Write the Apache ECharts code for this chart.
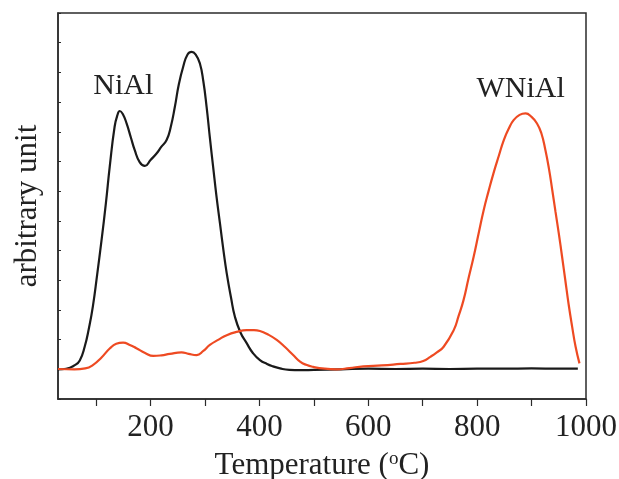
<!DOCTYPE html>
<html>
<head>
<meta charset="utf-8">
<script src="https://cdn.jsdelivr.net/npm/echarts@6/dist/echarts.min.js"></script>
<style>
html,body{margin:0;padding:0;background:#fff;}
#main{width:619px;height:479px;}
</style>
</head>
<body>
<div id="main"></div>
<script>
// Data (temperature in °C, arbitrary units)
const niAlTemp = [30,45,61,70,79,87,94,102,110,118,125,134,139,143.5,149,156,164,171,180,189.5,200,211,220,229.5,237,244.7,252,260,268,275.5,283,290.7,297,303,309,315,321,327.5,334,340,348,355,365,376.6,388,401,414,425,438,455,475,500,550,600,650,700,750,800,850,900,950,985];
const niAlValue = [1.0,1.02,1.14,1.3,1.76,2.4,3.11,4.2,5.35,6.6,7.82,9.17,9.55,9.70,9.6,9.28,8.8,8.38,7.98,7.85,8.05,8.27,8.5,8.72,9.15,9.84,10.6,11.19,11.6,11.69,11.6,11.30,10.7,9.84,8.8,7.82,6.85,5.92,5.0,4.23,3.4,2.77,2.25,1.88,1.55,1.31,1.18,1.1,1.03,0.98,0.97,0.98,1.0,1.02,1.01,1.02,1.01,1.02,1.02,1.03,1.02,1.02];
const wNiAlTemp = [30,60,80,94,110,125,137,149.6,162,174,190,205,220,235.5,257,270,284.6,297,309,325,340,358,376.6,390,401,415,431.8,447,462,474.7,486,499,520,542,565,591,625,659,685,701,714,726,738.5,757,766,775,784,793.6,803,812,821,830,840,849,858,867,878,889,900,910,918,925.5,932,938,944,950,956,962,968,974.6,981,988];
const wNiAlValue = [1.01,1.0,1.03,1.14,1.4,1.7,1.86,1.90,1.82,1.71,1.55,1.45,1.47,1.52,1.57,1.52,1.48,1.62,1.82,2.0,2.15,2.26,2.32,2.32,2.29,2.18,1.99,1.75,1.48,1.26,1.15,1.08,1.02,1.0,1.04,1.1,1.13,1.18,1.22,1.28,1.42,1.57,1.76,2.32,2.8,3.33,4.05,4.79,5.6,6.36,7.0,7.6,8.2,8.72,9.1,9.39,9.57,9.62,9.5,9.28,8.95,8.38,7.75,7.04,6.3,5.58,4.8,4.0,3.2,2.43,1.75,1.2];
const xTickValues = [100,200,300,400,500,600,700,800,900,1000];
const xLabelValues = [200,400,600,800,1000];
const seriesNames = ['NiAl','WNiAl'];
const labelAnchors = [[150,10.54],[880,10.45]];

const pair = (xs, ys) => xs.map((x,i)=>[x, ys[i]]);
const FONT = '"Liberation Serif","DejaVu Serif",serif';
const chart = echarts.init(document.getElementById('main'));
const peakLabel = (i) => ({
  symbol:'circle', symbolSize:2, itemStyle:{color:'rgba(0,0,0,0)'},
  data:[{coord:labelAnchors[i], value:seriesNames[i]}],
  label:{show:true,formatter:seriesNames[i],fontFamily:FONT,fontSize:30,color:'#222',position:'inside'}
});
chart.setOption({
  animation:false,
  backgroundColor:'#fff',
  grid:{left:58,right:33,top:13,bottom:80,containLabel:false,outerBoundsMode:'none',
        show:true,borderColor:'#2b2b2b',borderWidth:1.5},
  xAxis:{
    type:'value', min:30, max:1000,
    axisLine:{show:true,lineStyle:{color:'#2b2b2b',width:1.5}},
    axisTick:{show:true,inside:false,length:7,customValues:xTickValues,lineStyle:{color:'#2b2b2b',width:1.2}},
    axisLabel:{customValues:xLabelValues,formatter:(v)=>String(v),fontFamily:FONT,fontSize:31,color:'#222',margin:13},
    splitLine:{show:false},
    name:'Temperature ({sup|o}C)',
    nameLocation:'middle', nameGap:51,
    nameTextStyle:{fontFamily:FONT,fontSize:31,color:'#222',
      rich:{sup:{fontFamily:FONT,fontSize:19,color:'#222',verticalAlign:'top',padding:[0,0,13,0]}}}
  },
  yAxis:{
    type:'value', min:0, max:13, interval:1,
    axisLine:{show:true,lineStyle:{color:'#2b2b2b',width:1.5}},
    axisTick:{show:true,inside:true,length:3,lineStyle:{color:'#2b2b2b',width:1}},
    axisLabel:{show:false},
    splitLine:{show:false},
    name:'arbitrary unit', nameLocation:'middle', nameGap:15,
    nameTextStyle:{fontFamily:FONT,fontSize:31,color:'#222'}
  },
  series:[
    {name:seriesNames[0],type:'line',data:pair(niAlTemp,niAlValue),smooth:0.5,showSymbol:false,
     lineStyle:{color:'#1a1a1a',width:2.2}, markPoint:peakLabel(0)},
    {name:seriesNames[1],type:'line',data:pair(wNiAlTemp,wNiAlValue),smooth:0.5,showSymbol:false,
     lineStyle:{color:'#ee4a22',width:2.2}, markPoint:peakLabel(1)}
  ]
});
</script>
</body>
</html>
